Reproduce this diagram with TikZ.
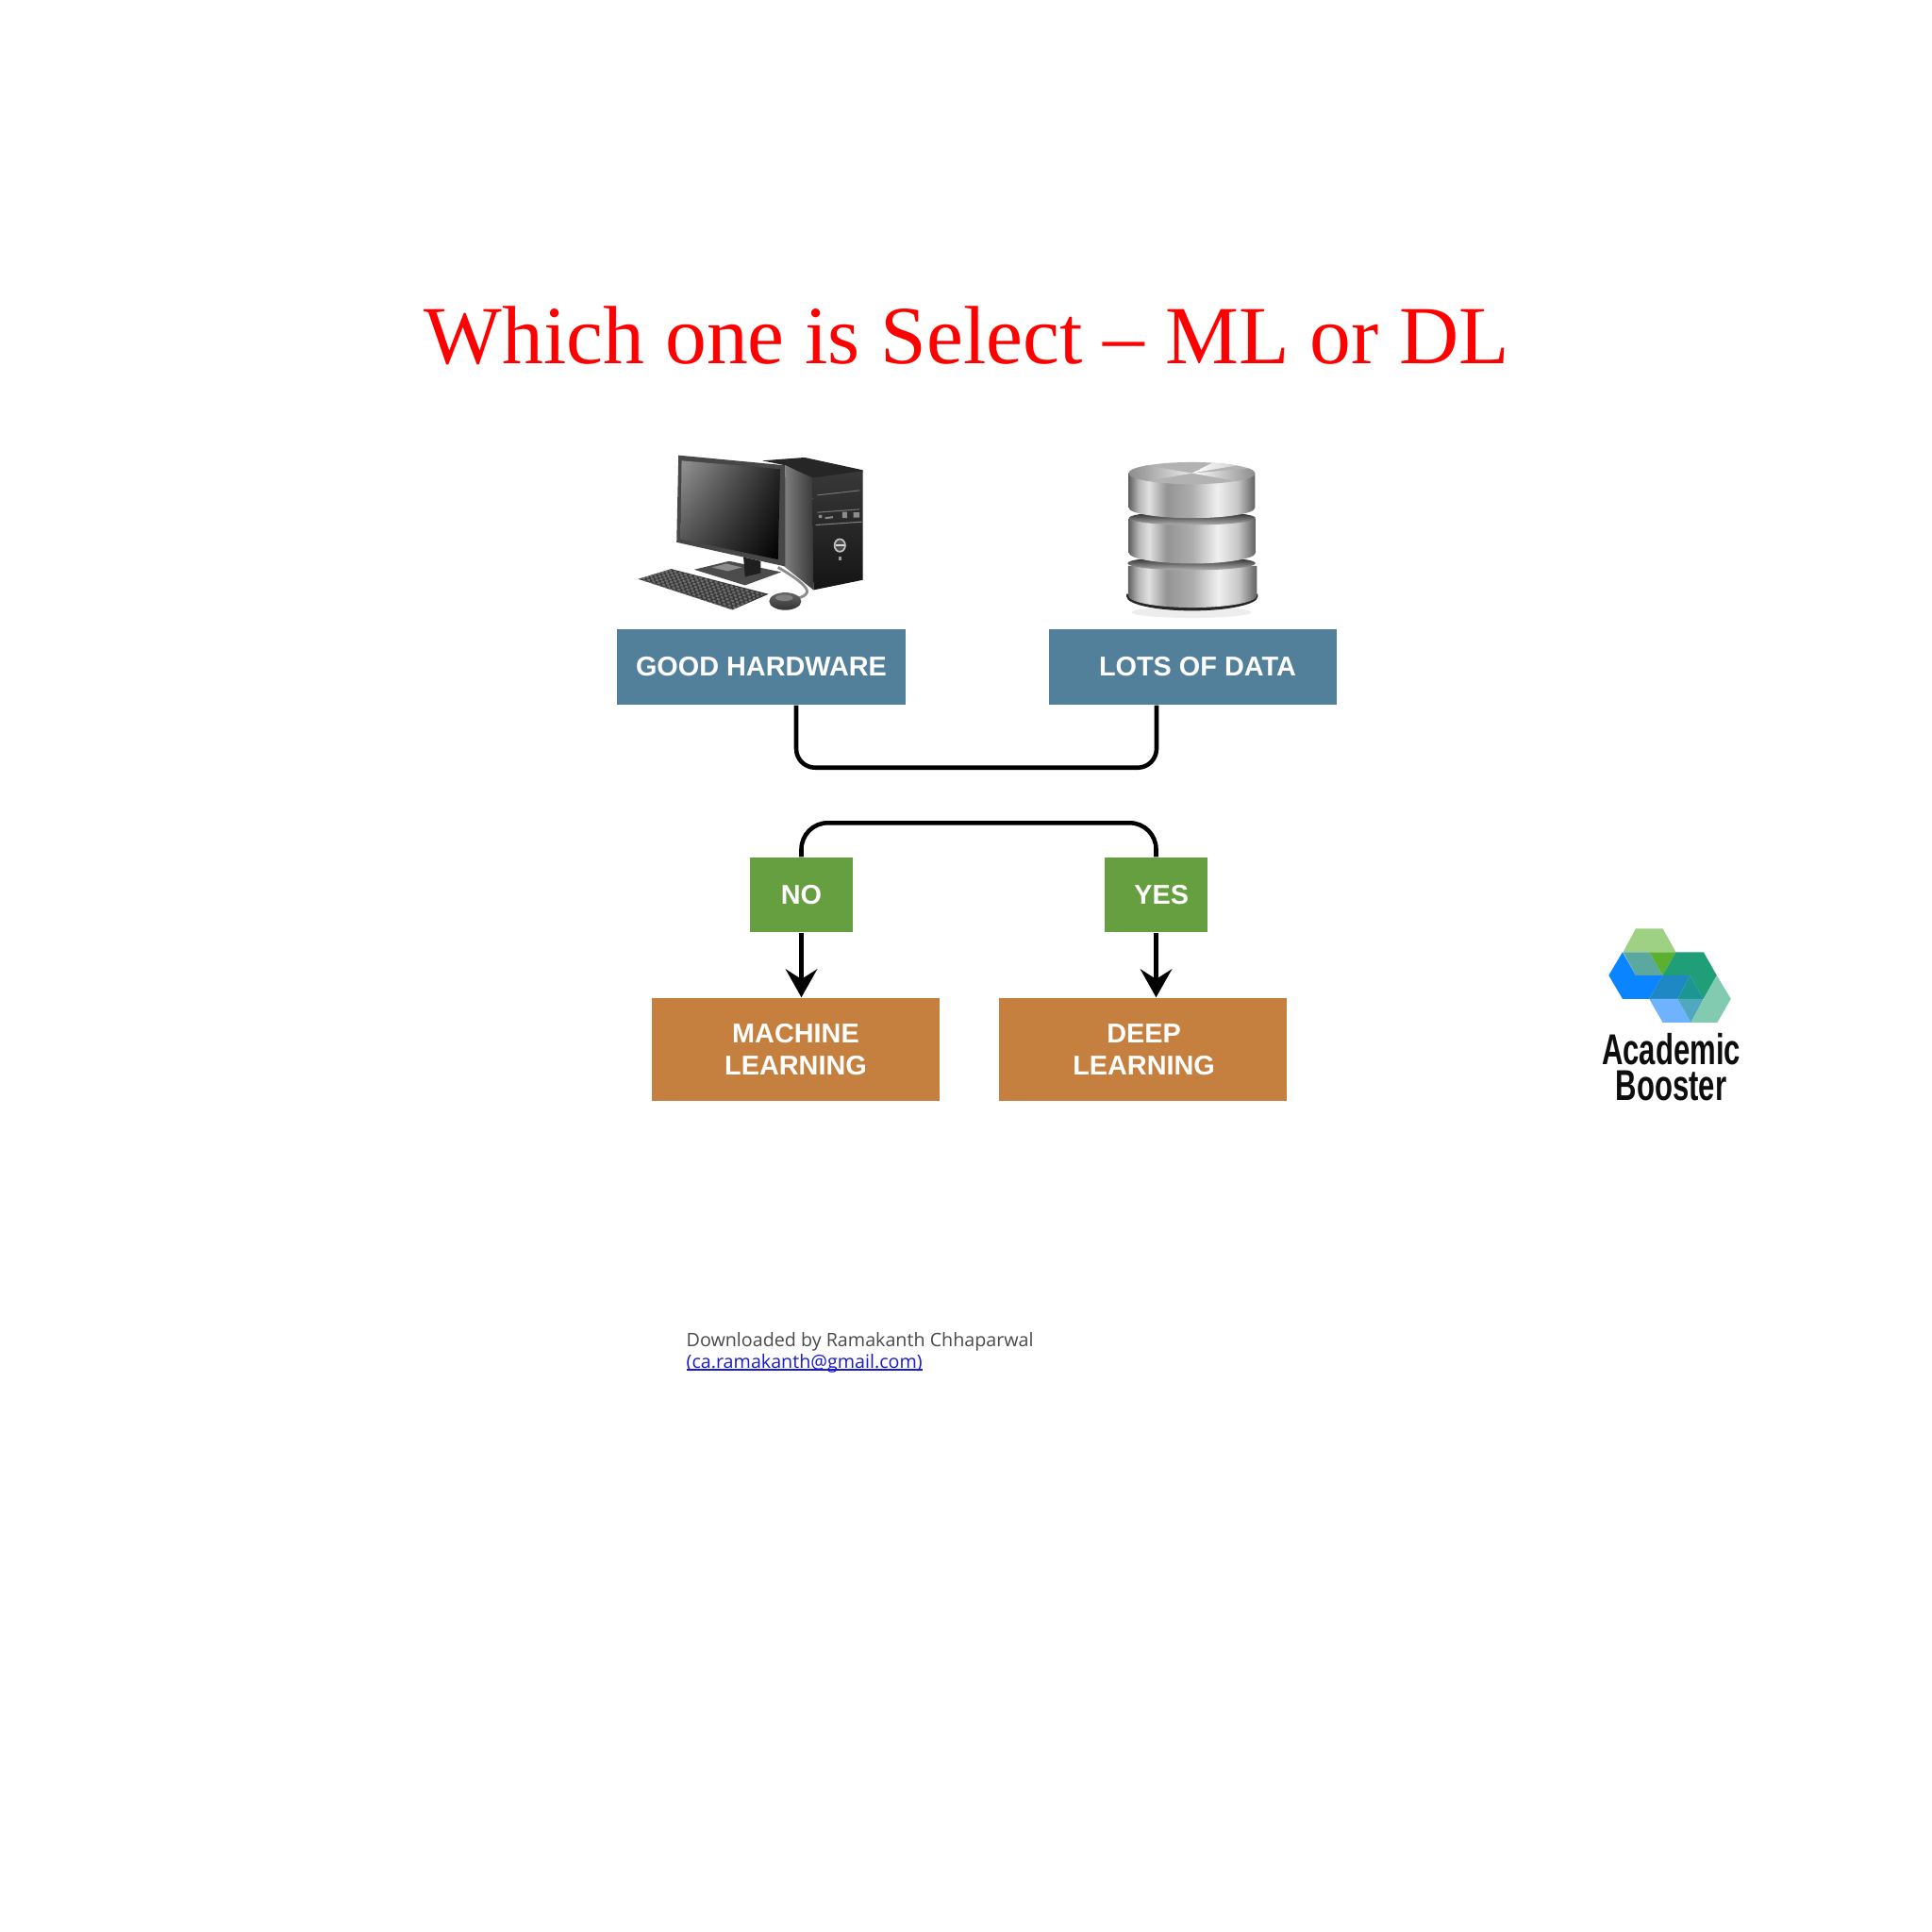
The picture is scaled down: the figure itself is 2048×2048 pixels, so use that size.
\documentclass[tikz,border=0pt]{standalone}
\usepackage{graphicx}
\usepackage{fontspec}
\setmainfont{Liberation Sans}
\newfontfamily\titlefont{Liberation Serif}
\newfontfamily\footfont{Open Sans}
\usetikzlibrary{arrows.meta,shadings}
\definecolor{boxblue}{HTML}{527F99}
\definecolor{boxgreen}{HTML}{659F40}
\definecolor{boxorange}{HTML}{C57F3F}
\definecolor{footgray}{HTML}{4A4A4A}
\definecolor{linkblue}{HTML}{1A1AD0}
\newcommand\linkline[1]{\setbox0\hbox{#1}\rlap{\rule[-0.75pt]{\wd0}{0.35pt}}\box0}
\newcommand\lowtext[1]{\raisebox{-0.45pt}{#1}}
\pgfdeclarehorizontalshading{metal}{100bp}{color(0bp)=(black!60);color(25bp)=(black!62);color(29bp)=(black!28);color(33bp)=(black!12);color(40bp)=(black!42);color(50bp)=(black!32);color(60bp)=(black!6);color(68bp)=(black!22);color(75bp)=(black!62);color(100bp)=(black!62)}
\tikzset{
  x=0.01cm,y=-0.01cm,
  flow/.style={draw=none,text=white,font=\bfseries\fontsize{8.2}{9.7}\selectfont,align=center,inner sep=0pt},
  wide/.style={flow,fill=boxblue,minimum width=3.05cm,minimum height=0.80cm},
  square/.style={flow,fill=boxgreen,minimum width=1.09cm,minimum height=0.79cm},
  result/.style={flow,fill=boxorange,minimum width=3.05cm,minimum height=1.09cm},
  conn/.style={draw=black,line width=1.3pt,rounded corners=0.2cm},
  connb/.style={conn,rounded corners=0.28cm},
  arrowline/.style={draw=black,line width=1.3pt,-{Stealth[length=8.5pt,width=9.5pt,inset=3pt]}},
  img/.style={x=0.00333cm,y=-0.00333cm},
  disc/.style={shading=metal}
}
\begin{document}
\begin{tikzpicture}
\path[fill=white] (0,0) rectangle (2048,2048);
\useasboundingbox (0,0) rectangle (2048,2048);

\node[anchor=base,text=red,font=\titlefont\fontsize{24.9}{28}\selectfont,inner sep=0pt] (title) at (1025,385) {Which one is Select – ML or DL};

% boxes
\node[wide] (gh) at (807,707) {\lowtext{GOOD HARDWARE}};
\node[wide] (ld) at (1264.5,707) {\hspace*{2.8pt}\lowtext{LOTS OF DATA}};
\node[square] (no) at (849.5,948.5) {\lowtext{NO}};
\node[square] (yes) at (1225.5,948.5) {\hspace*{3.2pt}\lowtext{YES}};
\node[result] (ml) at (843.5,1112.5) {MACHINE\\LEARNING};
\node[result] (dl) at (1211.5,1112.5) {\hspace*{0.6pt}DEEP\\\hspace*{0.6pt}LEARNING};

% connectors
\draw[conn] ([xshift=0.37cm]gh.south) -- ++(0,66) -| ([xshift=-0.385cm]ld.south);
\draw[connb] (no.north) -- ++(0,-36) -| (yes.north);
\draw[arrowline] (no.south) -- (no.south |- ml.north);
\draw[arrowline] (yes.south) -- (yes.south |- dl.north);

% computer
\begin{scope}[shift={(640,460)},img]
  % tower
  \fill[black!85] (505,85) -- (640,75) -- (825,115) -- (825,122) -- (665,143) -- (578,100) -- cycle;
  \shade[left color=black!50,right color=black!78] (578,100) -- (665,140) -- (668,497) -- (575,422) -- cycle;
  \shade[bottom color=black!92,top color=black!78] (665,140) -- (825,118) -- (825,465) -- (668,497) -- cycle;
  \draw[black!55,line width=0.3pt] (680,195) -- (815,180);
  \draw[black!55,line width=0.3pt] (680,250) -- (815,240);
  \draw[black!50,line width=0.3pt] (675,290) -- (822,280);
  \fill[black!45] (685,258) rectangle (695,268) (705,265) -- (730,262) -- (730,268) -- (705,271) -- cycle (760,248) rectangle (775,268) (795,250) rectangle (815,266);
  \draw[black!25,line width=0.5pt,fill=black!70] (752,355) ellipse [x radius=17,y radius=20];
  \draw[black!15,line width=0.6pt] (738,355) -- (766,355);
  \fill[black!40] (748,390) rectangle (756,402);
  % cable
  \draw[black!45,line width=0.8pt] (555,425) .. controls (600,450) and (650,485) .. (648,503) .. controls (645,515) and (630,520) .. (620,522);
  % stand
  \fill[black!70] (288,432) -- (400,405) -- (565,440) -- (450,482) -- cycle;
  \fill[black!45] (345,425) -- (390,413) -- (440,425) -- (395,437) -- cycle;
  \fill[black!88] (445,392) -- (500,405) -- (500,443) -- (450,455) -- cycle;
  % monitor
  \fill[black!72] (238,68) -- (578,100) -- (578,422) -- (232,345) -- cycle;
  \shade[upper left=black!42,upper right=black!85,lower left=black!72,lower right=black] (248,85) -- (562,112) -- (555,400) -- (245,335) -- cycle;
  % keyboard
  \fill[black!78] (110,462) -- (215,430) -- (525,510) -- (410,560) -- cycle;
  \begin{scope}
    \clip (110,462) -- (215,430) -- (525,510) -- (410,560) -- cycle;
    \foreach \k in {0,12,...,96}
      \draw[black!58,line width=0.6pt,dash pattern=on 0.9pt off 0.7pt] (110+\k,462-\k*.3) -- (410+\k,560-\k*.5);
  \end{scope}
  % mouse
  \shade[top color=black!60,bottom color=black!80] (578,533) ellipse [x radius=51,y radius=28];
  \fill[black!50] (575,522) ellipse [x radius=28,y radius=10];
\end{scope}

% database
\begin{scope}[shift={(1100,460)},img]
  \fill[black!7] (490,568) ellipse [x radius=190,y radius=18];
  % third disc
  \fill[black!85] (283,510) -- (283,518) arc [start angle=180,end angle=0,x radius=209,y radius=45] -- (701,510) -- cycle;
  \path[disc] (288,420) -- (288,515) arc [start angle=180,end angle=0,x radius=205,y radius=38] -- (698,420) -- cycle;
  \shade[top color=black!90,bottom color=black!30] (490,412) ellipse [x radius=204,y radius=22];
  % second disc
  \path[disc] (290,270) -- (290,378) arc [start angle=180,end angle=0,x radius=202,y radius=35] -- (694,270) -- cycle;
  \shade[top color=black!90,bottom color=black!30] (492,268) ellipse [x radius=202,y radius=22];
  % first disc
  \path[disc] (290,125) -- (290,235) arc [start angle=180,end angle=0,x radius=201,y radius=33] -- (692,125) -- cycle;
  \fill[black!30] (491,125) ellipse [x radius=201,y radius=35];
  \begin{scope}
    \clip (491,125) ellipse [x radius=201,y radius=35];
    \shade[left color=black!45,right color=black!8] (290,90) -- (491,125) -- (290,160) -- cycle;
    \shade[left color=white,right color=black!25] (491,125) -- (692,90) -- (560,90) -- cycle;
    \shade[left color=white,right color=black!45] (491,125) -- (692,160) -- (692,108) -- cycle;
  \end{scope}
\end{scope}

% logo
\begin{scope}[shift={(1680,960)},img]
  \fill[fill={rgb,255:red,159;green,209;blue,132}] (122,148) -- (162,73) -- (248,73) -- (290,148) -- cycle;
  \fill[fill={rgb,255:red,10;green,132;blue,255}] (76,222) -- (120,148) -- (162,222) -- (248,222) -- (205,297) -- (120,297) -- cycle;
  \fill[fill={rgb,255:red,90;green,168;blue,160}] (122,148) -- (205,148) -- (248,222) -- (162,222) -- cycle;
  \fill[fill={rgb,255:red,92;green,176;blue,48}] (205,148) -- (290,148) -- (248,222) -- cycle;
  \fill[fill={rgb,255:red,31;green,158;blue,120}] (290,148) -- (378,148) -- (420,222) -- (378,297) -- (335,222) -- (248,222) -- cycle;
  \fill[fill={rgb,255:red,30;green,136;blue,196}] (248,222) -- (335,222) -- (295,297) -- (205,297) -- cycle;
  \fill[fill={rgb,255:red,28;green,150;blue,146}] (335,222) -- (378,297) -- (295,297) -- cycle;
  \fill[fill={rgb,255:red,111;green,179;blue,255}] (205,297) -- (295,297) -- (338,372) -- (248,372) -- cycle;
  \fill[fill={rgb,255:red,80;green,168;blue,192}] (295,297) -- (378,297) -- (338,372) -- cycle;
  \fill[fill={rgb,255:red,130;green,203;blue,176}] (378,297) -- (420,222) -- (465,297) -- (422,372) -- (338,372) -- cycle;
\end{scope}
\node[anchor=south,inner sep=0pt,align=center,font=\bfseries\fontsize{13}{10.8}\selectfont,text=black!95] (logotext) at (1771.5,1168) {\scalebox{0.68}[1]{Academic}\\\scalebox{0.68}[1]{Booster}};

% footer
\node[anchor=base west,inner sep=0pt,text=footgray,font=\footfont\fontsize{5.6}{7}\selectfont] (dlby) at (727,1427) {Downloaded by Ramakanth Chhaparwal};
\node[anchor=base west,inner sep=0pt,text=linkblue,font=\footfont\fontsize{5.6}{7}\selectfont] (mail) at (727,1450) {\linkline{(ca.ramakanth@gmail.com)}};
\end{tikzpicture}
\end{document}
